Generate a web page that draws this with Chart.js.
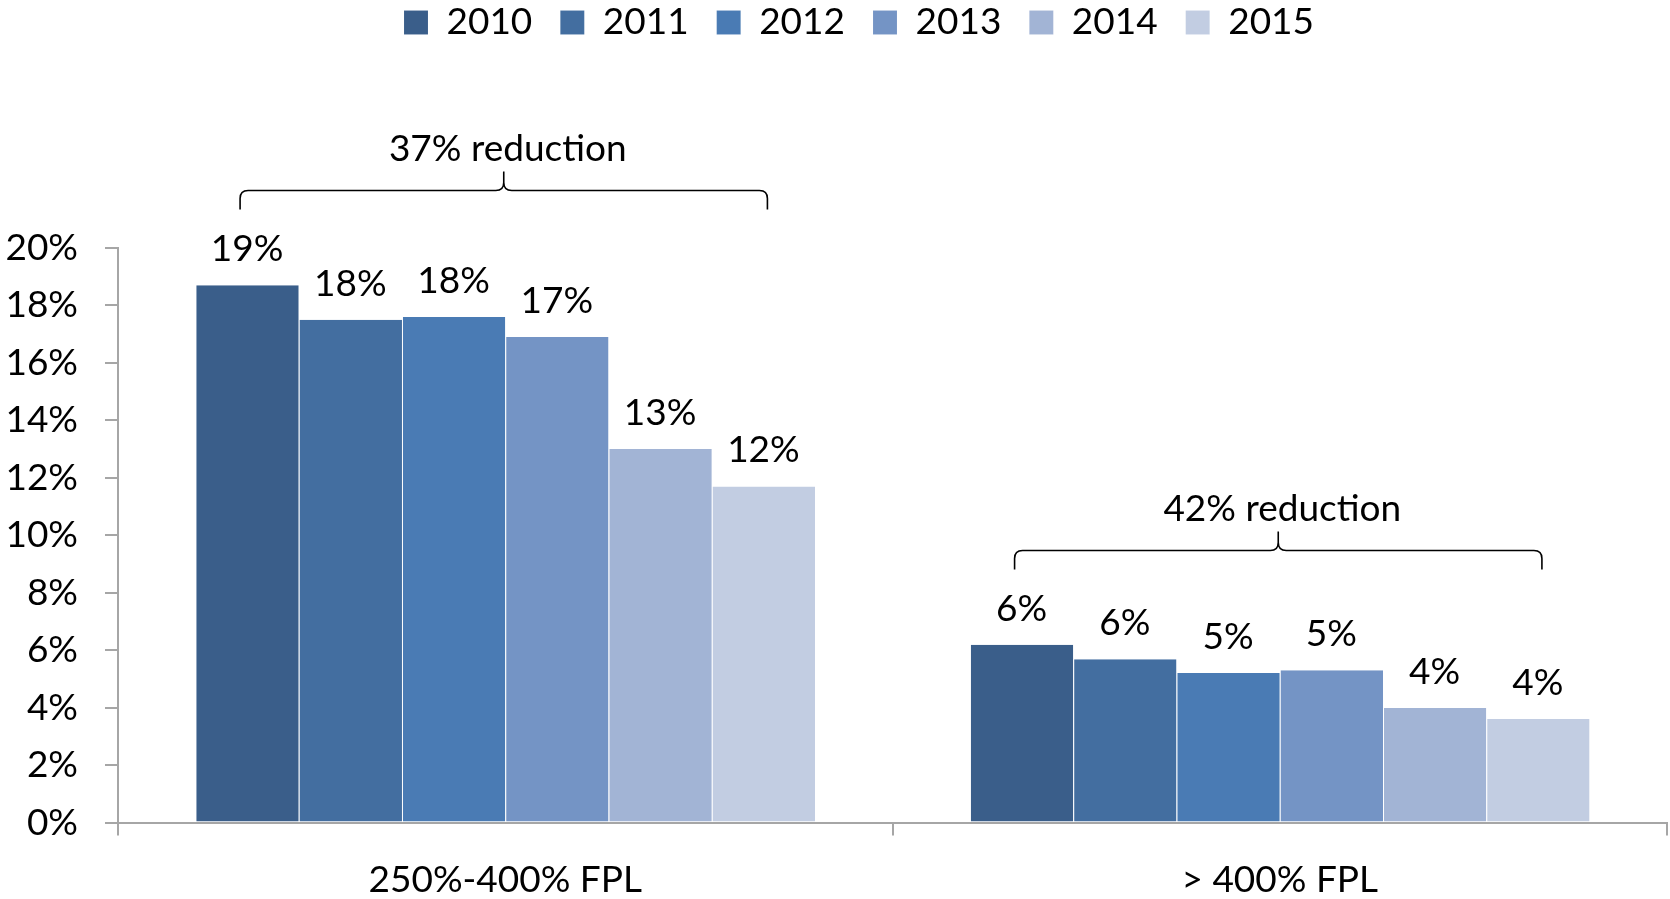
<!DOCTYPE html>
<html lang="en">
<head>
    <meta charset="UTF-8">
    <title>Share by FPL group, 2010-2015</title>
    <script src="https://cdn.jsdelivr.net/npm/chart.js"></script>
    <style>
        html, body { margin: 0; padding: 0; background: #fff; }
        .chart-container { position: relative; width: 1670px; height: 899px; }
    </style>
</head>
<body>
    <div class="chart-container">
        <canvas id="fplChart"></canvas>
    </div>

    <script>
        // categories on the x axis
        const categories = ['250%-400% FPL', '> 400% FPL'];
        const years = ['2010', '2011', '2012', '2013', '2014', '2015'];

        // values per year, one per category (percent)
        const v2010 = [18.7, 6.19];
        const v2011 = [17.5, 5.69];
        const v2012 = [17.6, 5.21];
        const v2013 = [16.9, 5.30];
        const v2014 = [13.0, 3.99];
        const v2015 = [11.7, 3.61];

        // bracket annotations above each group
        const bracketTexts = ['37% reduction', '42% reduction'];
        const bracketLevels = [22.0, 9.47];

        const yTicks = [0, 2, 4, 6, 8, 10, 12, 14, 16, 18, 20];

        const barColors = ['#3A5E8A', '#436EA0', '#4A7BB4', '#7494C5', '#A2B4D5', '#C2CDE2'];
        const fontFamily = 'Lato, "Open Sans", sans-serif';
        const fontSize = 37;
        const axisGray = '#a6a6a6';

        const series = [v2010, v2011, v2012, v2013, v2014, v2015];

        const data = {
            labels: categories,
            datasets: years.map((y, i) => ({
                label: y,
                data: series[i],
                backgroundColor: barColors[i],
                borderColor: 'rgba(255,255,255,0.35)',
                borderWidth: { left: 1, right: 0, top: 0, bottom: 0 },
                categoryPercentage: 0.8,
                barPercentage: 1.0
            }))
        };

        // 막대 위 값 표시
        const valueLabels = {
            id: 'valueLabels',
            afterDatasetsDraw(chart) {
                const ctx = chart.ctx;
                ctx.save();
                ctx.font = fontSize + 'px ' + fontFamily;
                ctx.fillStyle = '#000';
                ctx.textAlign = 'center';
                ctx.textBaseline = 'alphabetic';
                chart.data.datasets.forEach((ds, di) => {
                    chart.getDatasetMeta(di).data.forEach((bar, i) => {
                        ctx.fillText(Math.round(ds.data[i]) + '%', bar.x, bar.y - 24);
                    });
                });
                ctx.restore();
            }
        };

        // 그룹 위 중괄호와 감소율
        const brackets = {
            id: 'brackets',
            afterDatasetsDraw(chart) {
                const ctx = chart.ctx;
                const yScale = chart.scales.y;
                const first = chart.getDatasetMeta(0).data;
                const last = chart.getDatasetMeta(chart.data.datasets.length - 1).data;
                ctx.save();
                ctx.strokeStyle = '#000';
                ctx.lineWidth = 1.6;
                bracketTexts.forEach((txt, i) => {
                    const x1 = first[i].x - 7;
                    const x2 = last[i].x + 4;
                    const xm = (x1 + x2) / 2;
                    const y = yScale.getPixelForValue(bracketLevels[i]);
                    const r = 8;
                    ctx.beginPath();
                    ctx.moveTo(x1, y + 19);
                    ctx.lineTo(x1, y + r);
                    ctx.quadraticCurveTo(x1, y, x1 + r, y);
                    ctx.lineTo(xm - r, y);
                    ctx.quadraticCurveTo(xm, y, xm, y - r);
                    ctx.lineTo(xm, y - 19);
                    ctx.moveTo(xm, y - r);
                    ctx.quadraticCurveTo(xm, y, xm + r, y);
                    ctx.lineTo(x2 - r, y);
                    ctx.quadraticCurveTo(x2, y, x2, y + r);
                    ctx.lineTo(x2, y + 19);
                    ctx.stroke();

                    ctx.font = fontSize + 'px ' + fontFamily;
                    ctx.fillStyle = '#000';
                    ctx.textAlign = 'center';
                    ctx.textBaseline = 'alphabetic';
                    ctx.fillText(txt, xm + 4, y - 30);
                });
                ctx.restore();
            }
        };

        // 범례 아래 여백
        const legendSpace = {
            id: 'legendSpace',
            beforeInit(chart) {
                const fit = chart.legend.fit;
                chart.legend.fit = function () {
                    fit.bind(chart.legend)();
                    this.height = 272;
                };
            },
            afterLayout(chart) {
                chart.legend.left += 23;
                chart.legend.right += 23;
            }
        };

        new Chart(document.getElementById('fplChart'), {
            type: 'bar',
            data: data,
            plugins: [legendSpace, valueLabels, brackets],
            options: {
                responsive: true,
                maintainAspectRatio: false,
                animation: false,
                layout: { padding: { top: -24, left: 5, right: 3, bottom: -25 } },
                scales: {
                    x: {
                        grid: {
                            offset: true,
                            drawOnChartArea: false,
                            tickLength: 13,
                            color: axisGray,
                            lineWidth: 2
                        },
                        border: { color: axisGray, width: 2 },
                        ticks: {
                            color: '#000',
                            padding: 22,
                            font: { family: fontFamily, size: fontSize }
                        }
                    },
                    y: {
                        min: 0,
                        max: 20,
                        afterBuildTicks(axis) {
                            axis.ticks = yTicks.map(v => ({ value: v }));
                        },
                        afterFit(axis) {
                            axis.width = 113;
                        },
                        grid: {
                            drawOnChartArea: false,
                            tickLength: 13,
                            color: axisGray,
                            lineWidth: 2
                        },
                        border: { color: axisGray, width: 2 },
                        ticks: {
                            color: '#000',
                            padding: 27,
                            font: { family: fontFamily, size: fontSize },
                            callback: v => v + '%'
                        }
                    }
                },
                plugins: {
                    legend: {
                        position: 'top',
                        labels: {
                            boxWidth: 24,
                            boxHeight: 24,
                            padding: 28,
                            color: '#000',
                            font: { family: fontFamily, size: fontSize }
                        }
                    },
                    tooltip: { enabled: false }
                }
            }
        });
    </script>
</body>
</html>
